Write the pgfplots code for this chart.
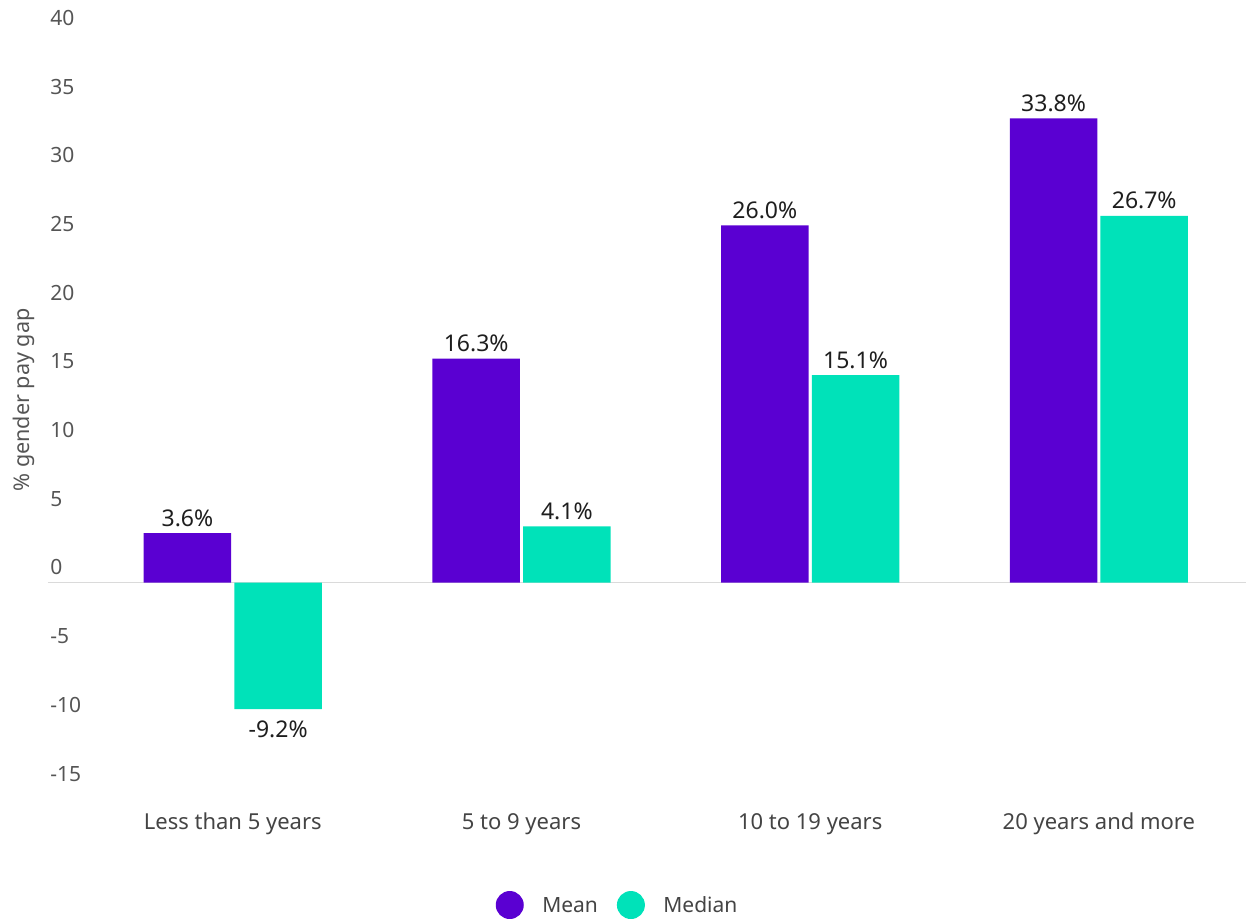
\documentclass[border=0pt]{standalone}
\usepackage{fontspec}
\setmainfont{Noto Sans}
\usepackage{pgfplots}
\pgfplotsset{compat=1.18}
\definecolor{cmean}{RGB}{90,0,210}
\definecolor{cmedian}{RGB}{0,226,185}
\definecolor{ticktext}{RGB}{85,85,85}
\definecolor{cattext}{RGB}{68,68,68}
\definecolor{valtext}{RGB}{30,30,30}
\definecolor{zeroline}{RGB}{218,218,218}
\newcommand{\lblfont}{\fontsize{10.5}{12}\selectfont}
\newcommand{\catfont}{\fontsize{11}{13}\selectfont}
\newcommand{\valfont}{\fontsize{11.5}{13}\selectfont}
\begin{document}
\begin{tikzpicture}
\path[use as bounding box] (-24pt,-65.1pt) rectangle (599pt,394.4pt);
\begin{axis}[
  at={(0,0)}, anchor=south west,
  scale only axis, width=599pt, height=377.85pt,
  xmin=-0.6401, xmax=3.5096, ymin=-15, ymax=40,
  ybar, bar width=0.303,
  axis line style={draw=none}, tick style={draw=none},
  xtick={0,1,2,3},
  xticklabels={Less than 5 years, 5 to 9 years, 10 to 19 years, 20 years and more},
  xticklabel style={anchor=base, inner sep=0pt, yshift=-16.3pt, font=\catfont, text=cattext},
  ytick={-15,-10,...,40},
  yticklabels={-15,-10,-5,0,5,10,15,20,25,30,35,40},
  yticklabel style={anchor=base west, inner sep=0pt, xshift=1pt, yshift=3.85pt, font=\lblfont, text=ticktext},
  extra y ticks={0}, extra y tick labels={},
  extra y tick style={grid=major, major grid style={zeroline, line width=0.7pt}},
  ylabel={\% gender pay gap},
  ylabel style={at={(axis description cs:-0.02003,0.5145)}, anchor=center, font=\fontsize{10.8}{12}\selectfont, text=ticktext},
  point meta=y,
  nodes near coords={\pgfmathprintnumber[fixed,fixed zerofill,precision=1,assume math mode=true]{\pgfplotspointmeta}\%},
  nodes near coords align={vertical},
  every node near coord/.append style={font=\valfont, text=valtext, inner sep=2pt, text height=12pt, text depth=1.4pt},
  legend columns=2,
  legend image code/.code={\fill (0pt,3.7pt) circle (7pt); \path[fill=none,draw=none] (-7pt,0pt) rectangle (16.25pt,0.1pt);},
  legend style={at={(axis description cs:0.4746,-0.1538)}, anchor=center, draw=none, fill=none,
    nodes={inner sep=0pt, font=\lblfont, text=cattext}, cells={anchor=base west},
    /tikz/every even column/.append style={column sep=9.5pt}},
]
\addplot[fill=cmean, draw=none, bar shift=-0.157] coordinates {(0,3.6) (1,16.3) (2,26.0) (3,33.8)};
\addplot[fill=cmedian, draw=none, bar shift=0.157] coordinates {(0,-9.2) (1,4.1) (2,15.1) (3,26.7)};
\legend{Mean, Median}
\end{axis}
\end{tikzpicture}
\end{document}
